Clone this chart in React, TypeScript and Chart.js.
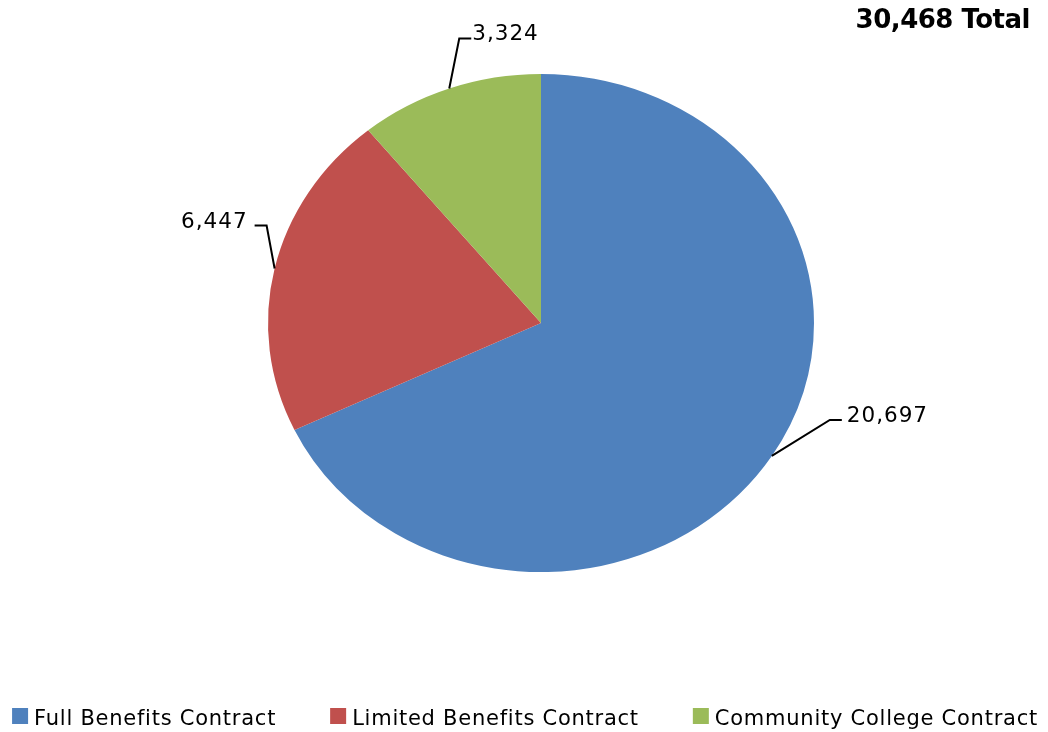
import React, { useEffect, useRef } from "react";
import { Chart, registerables } from "chart.js";

Chart.register(...registerables);

const categories = ["Full Benefits Contract", "Limited Benefits Contract", "Community College Contract"];
const values = [20697, 6447, 3324];
const valueLabels = ["20,697", "6,447", "3,324"];
const totalLabel = "30,468 Total";
const colors = ["#4F81BD", "#C0504D", "#9BBB59"];

// label leader styling (elbow offset from slice edge midpoint, direction, text gap)
const labelOffsets = [
  { dx: 58, dy: -36, dir: 1, gap: 5 },
  { dx: -8, dy: -43, dir: -1, gap: 7 },
  { dx: 10, dy: -50, dir: 1, gap: 1 },
];

const Y_SCALE = 249 / 273;
const LABEL_FONT = "21.5px 'DejaVu Sans'";
const LEGEND_FONT = "21px 'DejaVu Sans'";
const TITLE_FONT = "bold 26px 'DejaVu Sans'";

const piePlugin = {
  id: "ellipsePie",
  beforeDatasetsDraw(chart: any) {
    const arc = chart.getDatasetMeta(0).data[0];
    const ctx = chart.ctx;
    ctx.save();
    ctx.translate(arc.x, arc.y);
    ctx.scale(1, Y_SCALE);
    ctx.translate(-arc.x, -arc.y);
  },
  afterDatasetsDraw(chart: any) {
    const ctx = chart.ctx;
    ctx.restore();
    const meta = chart.getDatasetMeta(0);
    ctx.save();
    ctx.strokeStyle = "#000";
    ctx.lineWidth = 2;
    ctx.fillStyle = "#000";
    ctx.font = LABEL_FONT;
    (ctx as any).letterSpacing = "1px";
    ctx.textBaseline = "alphabetic";
    meta.data.forEach((arc: any, i: number) => {
      const mid = (arc.startAngle + arc.endAngle) / 2;
      const r = arc.outerRadius;
      const px = arc.x + r * Math.cos(mid);
      const py = arc.y + r * Y_SCALE * Math.sin(mid);
      const o = labelOffsets[i];
      const ex = px + o.dx;
      const ey = py + o.dy;
      const hx = ex + 12 * o.dir;
      ctx.beginPath();
      ctx.moveTo(px, py);
      ctx.lineTo(ex, ey);
      ctx.lineTo(hx, ey);
      ctx.stroke();
      ctx.textAlign = o.dir > 0 ? "left" : "right";
      ctx.fillText(valueLabels[i], hx + o.gap * o.dir, ey + 2);
    });
    ctx.restore();
  },
  afterDraw(chart: any) {
    const ctx = chart.ctx;
    const W = chart.width;
    ctx.save();
    // title
    ctx.font = TITLE_FONT;
    (ctx as any).letterSpacing = "-0.5px";
    ctx.fillStyle = "#000";
    ctx.textAlign = "right";
    ctx.textBaseline = "alphabetic";
    ctx.fillText(totalLabel, W - 18, 28);
    // legend
    ctx.font = LEGEND_FONT;
    (ctx as any).letterSpacing = "0.75px";
    ctx.textAlign = "left";
    ctx.textBaseline = "alphabetic";
    const box = 16;
    const gap = 6;
    const itemGap = 54;
    const widths = categories.map((c) => box + gap + ctx.measureText(c).width);
    const total = widths.reduce((a, b) => a + b, 0) + itemGap * (categories.length - 1);
    let x = W / 2 - total / 2 + 1;
    categories.forEach((c, i) => {
      ctx.fillStyle = colors[i];
      ctx.fillRect(x, 708, box, box);
      ctx.fillStyle = "#000";
      ctx.fillText(c, x + box + gap, 725);
      x += widths[i] + itemGap;
    });
    ctx.restore();
  },
};

export default function App() {
  const ref = useRef<HTMLCanvasElement | null>(null);
  useEffect(() => {
    document.body.style.margin = "0";
    const chart = new Chart(ref.current!, {
      type: "pie",
      data: {
        labels: categories,
        datasets: [
          {
            data: values,
            backgroundColor: colors,
            borderColor: colors,
            borderWidth: 0,
            radius: 273,
          } as any,
        ],
      },
      options: {
        animation: false,
        responsive: true,
        maintainAspectRatio: false,
        layout: { padding: { left: 34, right: 0, top: 0, bottom: 86 } },
        plugins: {
          legend: { display: false },
          tooltip: { enabled: false },
          title: { display: false },
        },
      },
      plugins: [piePlugin],
    });
    return () => chart.destroy();
  }, []);
  return (
    <div style={{ position: "absolute", left: 0, top: 0, width: 1048, height: 732 }}>
      <canvas ref={ref} />
    </div>
  );
}
